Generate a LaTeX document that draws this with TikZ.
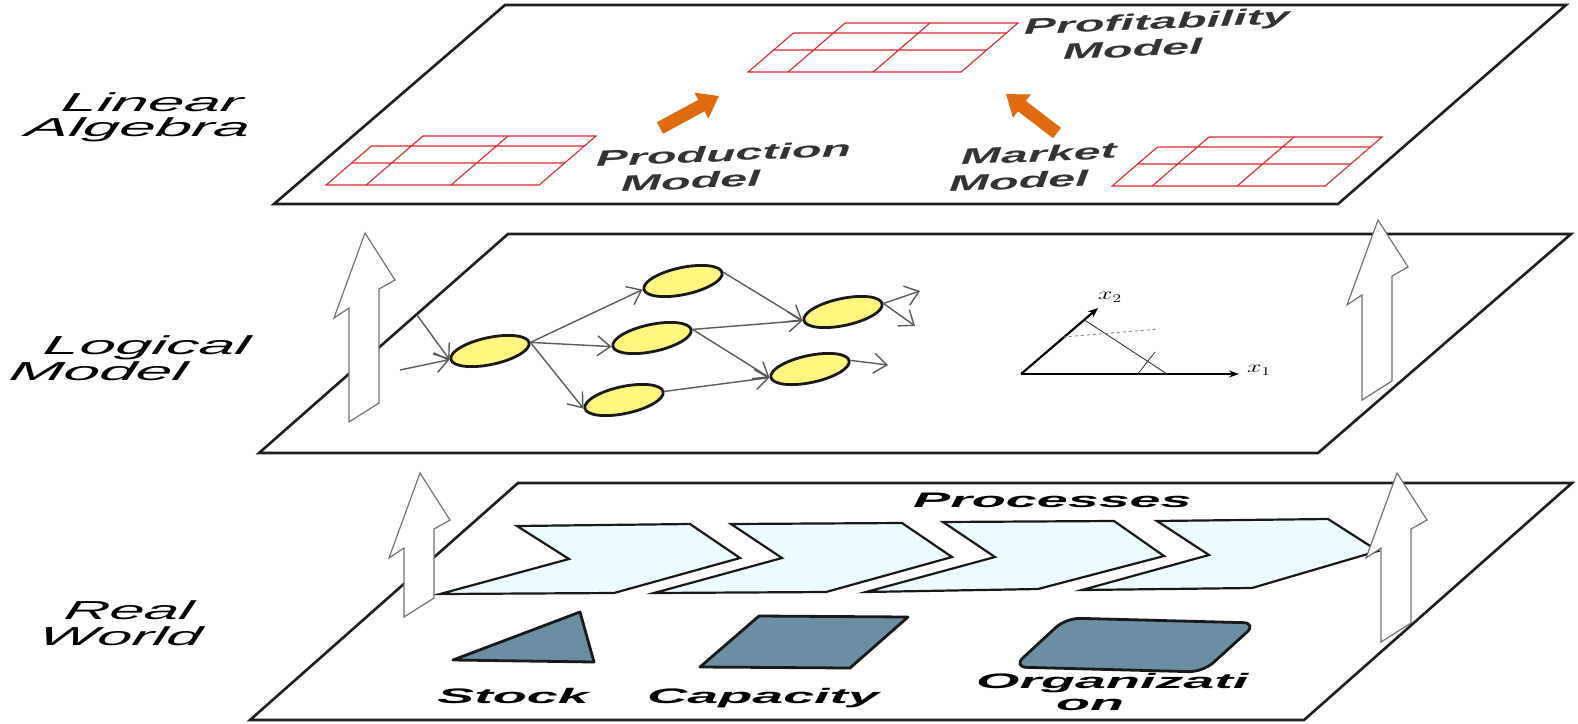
\documentclass[tikz,border=0pt]{standalone}
\usepackage{fontspec}
\setmainfont{Liberation Sans}
\usetikzlibrary{arrows.meta,shapes.geometric}

\definecolor{platebd}{HTML}{1E1E1E}
\definecolor{tablered}{HTML}{E0262A}
\definecolor{arroworange}{HTML}{E1690F}
\definecolor{actyellow}{HTML}{FFF680}
\definecolor{flowcyan}{HTML}{ECFCFF}
\definecolor{resblue}{HTML}{6A8EA3}
\definecolor{edgegray}{HTML}{5A5A5A}

\tikzset{
  plate/.style={draw=platebd, line width=2.6pt, fill=white},
  tableline/.style={draw=tablered, line width=1.1pt},
  blockarrow/.style={draw=arroworange, line width=13pt, -{Triangle[length=20pt,width=28pt]}},
  activity/.style={ellipse, draw=black!90, line width=2.8pt, fill=actyellow, minimum width=80pt, minimum height=27pt, inner sep=0pt, rotate=12},
  flow/.style={draw=edgegray, line width=1.4pt, -{Straight Barb[length=13pt,width=20pt]}},
  axisline/.style={draw=black, line width=1.4pt},
  process/.style={draw=black!90, line width=2.2pt, fill=flowcyan},
  resource/.style={draw=black!90, line width=2.8pt, fill=resblue, line join=round},
  hollow/.style={draw=black!55, line width=1.2pt, fill=white},
  sidelabel/.style={anchor=base west, inner sep=0pt, xslant=0.2, font=\fontsize{26}{28}\selectfont\itshape},
  modellabel/.style={anchor=base west, inner sep=0pt, text=black!80, rotate=2.5, font=\fontsize{22}{24}\selectfont\bfseries\itshape},
  worldlabel/.style={anchor=base west, inner sep=0pt, font=\fontsize{21}{23}\selectfont\bfseries\itshape},
  axislabel/.style={inner sep=0pt, font=\fontsize{18}{20}\selectfont},
}

\begin{document}
\begin{tikzpicture}[x=1pt, y=-1pt]
\useasboundingbox (0,0) rectangle (1578,723);

% the three planes
    \draw[plate] (505,5) -- (1566,5) -- (1338,204) -- (274,204) -- cycle;
    \draw[plate] (508,234) -- (1571,234) -- (1318,453) -- (259,453) -- cycle;
    \draw[plate] (518,483) -- (1572,483) -- (1304,720) -- (250,720) -- cycle;

% plane names
    \node[sidelabel] (linear)  at (60,111)  {\scalebox{2.5}[1]{Linear}};
    \node[sidelabel] (algebra) at (24,136)  {\scalebox{2.5}[1]{Algebra}};
    \node[sidelabel] (logical) at (42,354)  {\scalebox{2.5}[1]{Logical}};
    \node[sidelabel] (model)   at (8,380)   {\scalebox{2.5}[1]{Model}};
    \node[sidelabel] (real)    at (63,619)  {\scalebox{2.4}[1]{Real}};
    \node[sidelabel] (world)   at (37,645)  {\scalebox{2.4}[1]{World}};

% matrices
    \begin{scope}[shift={(383,136)}, xslant=1.16]
        \draw[tableline] (40,0) -- (213,0) -- (213,49) -- (0,49) -- (0,10);
        \draw[tableline] (0,10) -- (213,10) (0,27) -- (213,27)
                         (40,0) -- (40,49) (125,0) -- (125,49);
    \end{scope}
    \begin{scope}[shift={(805,23)}, xslant=1.16]
        \draw[tableline] (40,0) -- (213,0) -- (213,49) -- (0,49) -- (0,10);
        \draw[tableline] (0,10) -- (213,10) (0,27) -- (213,27)
                         (40,0) -- (40,49) (125,0) -- (125,49);
    \end{scope}
    \begin{scope}[shift={(1169,137)}, xslant=1.16]
        \draw[tableline] (40,0) -- (213,0) -- (213,49) -- (0,49) -- (0,10);
        \draw[tableline] (0,10) -- (213,10) (0,27) -- (213,27)
                         (40,0) -- (40,49) (125,0) -- (125,49);
    \end{scope}

% matrix names
    \node[modellabel] (profit)   at (1024,35)  {\scalebox{2.2}[1]{Profitability}};
    \node[modellabel] (profitm)  at (1063,60)  {\scalebox{2.2}[1]{Model}};
    \node[modellabel] (prod)     at (596,167)  {\scalebox{2.2}[1]{Production}};
    \node[modellabel] (prodm)    at (621,192)  {\scalebox{2.2}[1]{Model}};
    \node[modellabel] (market)   at (961,165)  {\scalebox{2.2}[1]{Market}};
    \node[modellabel] (marketm)  at (949,192)  {\scalebox{2.2}[1]{Model}};

% orange arrows
    \coordinate (prodtail) at (660,128);
    \coordinate (prodhead) at (719,96);
    \coordinate (markettail) at (1057,133);
    \coordinate (markethead) at (1006,94);
    \draw[blockarrow] (prodtail) -- (prodhead);
    \draw[blockarrow] (markettail) -- (markethead);

% network
    \node[activity] (e1) at (490,351) {};
    \node[activity] (e2) at (683,281) {};
    \node[activity] (e3) at (652,338) {};
    \node[activity] (e4) at (624,400) {};
    \node[activity] (e5) at (843,312) {};
    \node[activity] (e6) at (810,369) {};
    \coordinate (inlow)  at (400,370);
    \coordinate (inhigh) at (417,315);
    \coordinate (outa) at (920,291);
    \coordinate (outb) at (915,326);
    \coordinate (outc) at (888,365);
    \draw[flow] (inlow) -- (e1.west);
    \draw[flow] (inhigh) -- (e1.west);
    \draw[flow] (e1.east) -- (e2.west);
    \draw[flow] (e1.east) -- (e3.west);
    \draw[flow] (e1.east) -- (e4.west);
    \draw[flow] (e2.east) -- (e5.west);
    \draw[flow] (e3.east) -- (e5.west);
    \draw[flow] (e3.east) -- (e6.west);
    \draw[flow] (e4.east) -- (e6.west);
    \draw[flow] (e5.east) -- (outa);
    \draw[flow] (e5.east) -- (outb);
    \draw[flow] (e6.east) -- (outc);

% axes
    \coordinate (origin) at (1021,374);
    \coordinate (xoneend) at (1239,374);
    \coordinate (xtwoend) at (1098,308);
    \draw[axisline, -{Stealth[length=10pt,width=7pt]}] (origin) -- (xoneend);
    \draw[axisline, line width=2.2pt, -{Stealth[length=10pt,width=8pt]}] (origin) -- (xtwoend);
    \node[axislabel] (xone) at (1259,370) {\scalebox{1.5}[1]{$x_1$}};
    \node[axislabel] (xtwo) at (1110,297) {\scalebox{1.5}[1]{$x_2$}};
% constraints
    \draw[black!80, line width=0.9pt] (1083,319) -- (1167,374);
    \draw[black!50, line width=0.8pt, dashed] (1063,337) -- (1159,329);
    \draw[black!80, line width=0.8pt] (1137,375) -- (1155,352);

% processes
    \draw[process] (517,526) -- (690,524) -- (740,558) -- (614,593) -- (440,594) -- (569,559) -- cycle;
    \draw[process] (731,524) -- (902,523) -- (952,557) -- (826,592) -- (654,593) -- (782,558) -- cycle;
    \draw[process] (943,522) -- (1114,521) -- (1164,556) -- (1038,589) -- (866,592) -- (995,557) -- cycle;
    \draw[process] (1157,521) -- (1328,519) -- (1378,551) -- (1252,588) -- (1082,590) -- (1209,555) -- cycle;
    \node[worldlabel] (processes) at (913,507) {\scalebox{2.65}[1]{Processes}};

% resources
    \draw[resource] (453,660) -- (580,612) -- (594,662) -- cycle;
    \draw[resource] (700,667) -- (759,616) -- (908,617) -- (850,668) -- cycle;
    \draw[resource, rounded corners=14pt] (1013,667) -- (1066,618) -- (1257,623) -- (1203,672) -- cycle;
    \node[worldlabel] (stock)    at (437,703)  {\scalebox{2.65}[1]{Stock}};
    \node[worldlabel] (capacity) at (647,703)  {\scalebox{2.65}[1]{Capacity}};
    \node[worldlabel] (organ)    at (976,688)  {\scalebox{2.65}[1]{Organizati}};
    \node[worldlabel] (organon)  at (1056,710) {\scalebox{2.65}[1]{on}};

% hollow arrows between the planes
    \draw[hollow] (349,422) -- (379,403) -- (379,289) -- (395,280) -- (365,233) -- (334,318) -- (349,308) -- cycle;
    \draw[hollow] (1362,400) -- (1392,381) -- (1392,276) -- (1408,267) -- (1378,220) -- (1347,305) -- (1362,295) -- cycle;
    \draw[hollow] (404,617) -- (434,598) -- (434,529) -- (450,520) -- (420,473) -- (389,558) -- (404,548) -- cycle;
    \draw[hollow] (1381,642) -- (1411,623) -- (1411,529) -- (1427,520) -- (1397,473) -- (1366,558) -- (1381,548) -- cycle;

\end{tikzpicture}
\end{document}
